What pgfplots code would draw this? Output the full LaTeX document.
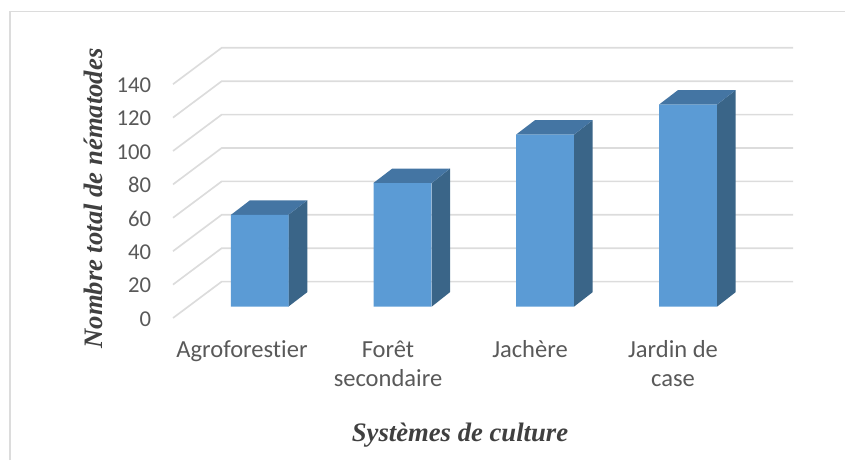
\documentclass[border=0pt]{standalone}
\usepackage{pgfplots}
\pgfplotsset{compat=1.18}
\usepackage{fontspec}
\setmainfont{Carlito}[RawFeature={-liga}]
\newfontfamily\serifbi[BoldFont={Liberation Serif},BoldItalicFont={Liberation Serif Bold Italic}]{Liberation Serif}
\definecolor{barfront}{HTML}{5B9BD5}
\definecolor{bartop}{HTML}{4475A3}
\definecolor{barside}{HTML}{3A6588}
\definecolor{gridc}{HTML}{DCDCDC}
\definecolor{tickc}{HTML}{595959}
\definecolor{titlec}{HTML}{404040}
\begin{document}
\begin{tikzpicture}[x=0.75pt,y=0.75pt]
\path[use as bounding box] (0,0) rectangle (845,460);
\begin{axis}[
  at={(0,0)},anchor=south west,
  scale only axis,width=633.75pt,height=345pt,
  xmin=0,xmax=845,ymin=-85.03,ymax=190.42,
  clip=false,
  axis line style={draw=none},
  major tick length=0pt,
  tick style={draw=none},
  ytick={0,20,40,60,80,100,120,140},
  xtick={242,388,530,673},
  xticklabels={Agroforestier,{Forêt\\secondaire},Jachère,{Jardin de\\case}},
  yticklabel style={font=\fontsize{17}{19}\selectfont,text=tickc,anchor=east,inner sep=0pt,xshift=113.5pt,yshift=-0.7pt},
  xticklabel style={font=\fontsize{18.4}{21.6}\selectfont,text=tickc,anchor=north,align=center,inner sep=0pt,yshift=89.5pt},
  /pgf/number format/assume math mode=true,
  xlabel={\serifbi\bfseries\itshape Systèmes de culture},
  ylabel={\serifbi\bfseries\itshape Nombre total de nématodes},
  every axis x label/.style={at={(axis cs:460,-70)},anchor=center,font=\fontsize{20}{22}\selectfont,text=titlec},
  every axis y label/.style={at={(axis cs:93.5,71.5)},anchor=center,rotate=90,font=\fontsize{20}{22}\selectfont,text=titlec},
]
% frame
\addplot[gridc,line width=1pt] coordinates {(10,-85.03)(10,183.4)(845,183.4)};
% gridlines
\addplot[gridc,line width=1.25pt] coordinates {(173,0)(221.7,21.8)(793,21.8)};
\addplot[gridc,line width=1.25pt] coordinates {(173,20)(221.7,41.8)(793,41.8)};
\addplot[gridc,line width=1.25pt] coordinates {(173,40)(221.7,61.8)(793,61.8)};
\addplot[gridc,line width=1.25pt] coordinates {(173,60)(221.7,81.8)(793,81.8)};
\addplot[gridc,line width=1.25pt] coordinates {(173,80)(221.7,101.8)(793,101.8)};
\addplot[gridc,line width=1.25pt] coordinates {(173,100)(221.7,121.8)(793,121.8)};
\addplot[gridc,line width=1.25pt] coordinates {(173,120)(221.7,141.8)(793,141.8)};
\addplot[gridc,line width=1.25pt] coordinates {(173,140)(221.7,161.8)(793,161.8)};
% bars: side faces
\addplot[fill=barside,draw=none,yshift=8.5pt] coordinates {(288.3,0)(307.3,8.7)(307.3,63.7)(288.3,55)} --cycle;
\addplot[fill=barside,draw=none,yshift=8.5pt] coordinates {(431.7,0)(450,8.7)(450,82.7)(431.7,74)} --cycle;
\addplot[fill=barside,draw=none,yshift=8.5pt] coordinates {(574,0)(592.7,8.7)(592.7,111.7)(574,103)} --cycle;
\addplot[fill=barside,draw=none,yshift=8.5pt] coordinates {(717,0)(735.7,8.7)(735.7,129.7)(717,121)} --cycle;
% top faces
\addplot[fill=bartop,draw=none,yshift=8.5pt] coordinates {(231,55)(250,63.7)(307.3,63.7)(288.3,55)} --cycle;
\addplot[fill=bartop,draw=none,yshift=8.5pt] coordinates {(373.3,74)(392.3,82.7)(450,82.7)(431.7,74)} --cycle;
\addplot[fill=bartop,draw=none,yshift=8.5pt] coordinates {(516,103)(535,111.7)(592.7,111.7)(574,103)} --cycle;
\addplot[fill=bartop,draw=none,yshift=8.5pt] coordinates {(659,121)(678,129.7)(735.7,129.7)(717,121)} --cycle;
% front faces
\addplot[ybar,bar width=43.3pt,bar shift=0pt,fill=barfront,draw=none,yshift=8.5pt] coordinates {(259.7,55)(402.5,74)(545,103)(688,121)};
\end{axis}
\end{tikzpicture}
\end{document}
